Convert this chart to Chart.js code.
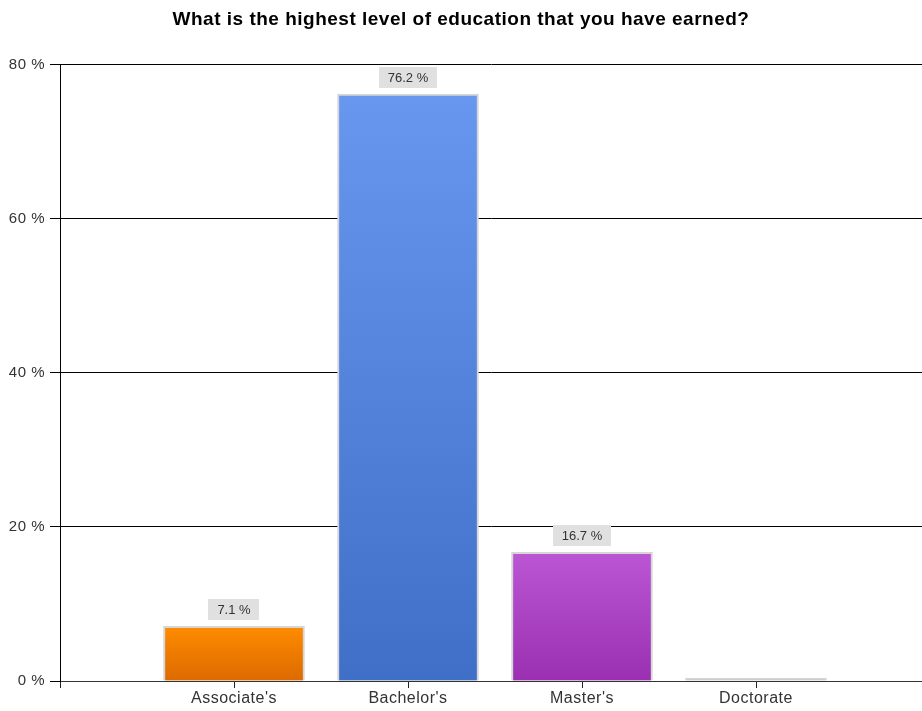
<!DOCTYPE html>
<html>
<head>
<meta charset="utf-8">
<title>Education level</title>
<script src="https://cdn.jsdelivr.net/npm/chart.js@4/dist/chart.umd.min.js"></script>
<style>
    html, body { margin: 0; padding: 0; background: #fff; overflow: hidden; }
    #wrap { width: 922px; height: 711px; position: relative; }
</style>
</head>
<body>
<div id="wrap"><canvas id="chart"></canvas></div>
<script>
// Survey answers
const categories = ["Associate's", "Bachelor's", "Master's", "Doctorate"];
const percentages = [7.1, 76.2, 16.7, 0];
const yTicks = [0, 20, 40, 60, 80];

// Top / bottom colours of each bar's gradient
const topColors = ['#ff8c00', '#6797ee', '#bb56d4', '#cccccc'];
const bottomColors = ['#dc6a00', '#3f6fc7', '#9a30b1', '#cccccc'];

// Bars sit at x = 1..4 on a linear axis so the plot runs on past the last bar
const points = categories.map((c, i) => ({ x: i + 1, y: percentages[i] }));

const FONT = '"Liberation Sans", Arial, sans-serif';

function barGradient(context) {
    const chart = context.chart;
    const i = context.dataIndex;
    if (!chart.chartArea || i === undefined) return topColors[i] || '#888';
    const y = chart.scales.y;
    const top = y.getPixelForValue(percentages[i]);
    const bottom = y.getPixelForValue(0);
    if (bottom - top < 1) return topColors[i];
    const g = chart.ctx.createLinearGradient(0, top, 0, bottom);
    g.addColorStop(0, topColors[i]);
    g.addColorStop(1, bottomColors[i]);
    return g;
}

// Slightly looser text for title and axis labels
const spacing = {
    id: 'spacing',
    beforeDraw(chart) { chart.ctx.letterSpacing = '0.5px'; },
    afterDraw(chart) { chart.ctx.letterSpacing = '0px'; }
};

// Grey value boxes above the bars
const valueBoxes = {
    id: 'valueBoxes',
    afterDatasetsDraw(chart) {
        const ctx = chart.ctx;
        const meta = chart.getDatasetMeta(0);
        ctx.save();
        ctx.letterSpacing = '0px';
        ctx.font = '13px ' + FONT;
        ctx.textAlign = 'center';
        ctx.textBaseline = 'middle';
        meta.data.forEach((bar, i) => {
            const v = percentages[i];
            if (!v) return;
            const text = v.toFixed(1) + ' %';
            const w = ctx.measureText(text).width + 18;
            const h = 21;
            const bottom = bar.y - 6;
            ctx.fillStyle = '#e0e0e0';
            ctx.fillRect(Math.round(bar.x - w / 2), Math.round(bottom - h), Math.round(w), h);
            ctx.fillStyle = '#333';
            ctx.fillText(text, bar.x, bottom - h / 2 + 1);
        });
        ctx.restore();
    }
};

const ctx = document.getElementById('chart');
const chart = new Chart(ctx.getContext('2d'), {
    type: 'bar',
    data: {
        datasets: [{
            data: points,
            backgroundColor: barGradient,
            borderColor: '#d6d6d6',
            borderWidth: { top: 2, left: 2, right: 2, bottom: 0 },
            borderSkipped: 'start',
            barThickness: 141,
            minBarLength: 3
        }]
    },
    options: {
        responsive: true,
        maintainAspectRatio: false,
        animation: false,
        layout: { padding: 0 },
        plugins: {
            legend: { display: false },
            tooltip: { enabled: false },
            title: {
                display: true,
                text: 'What is the highest level of education that you have earned?',
                color: '#000',
                font: { family: FONT, size: 19, weight: 'bold' },
                padding: { top: 8, bottom: 34 }
            }
        },
        scales: {
            x: {
                type: 'linear',
                offset: false,
                min: 0,
                max: 862 / 174,
                afterFit(scale) { scale.height = 30; },
                afterBuildTicks(scale) {
                    scale.ticks = [0, 1, 2, 3, 4].map(v => ({ value: v }));
                },
                ticks: {
                    autoSkip: false,
                    maxRotation: 0,
                    padding: 1,
                    color: '#333',
                    font: { family: FONT, size: 16 },
                    callback: v => categories[v - 1] || ''
                },
                grid: {
                    offset: false,
                    drawOnChartArea: false,
                    drawTicks: true,
                    tickLength: 7,
                    color: '#222',
                    lineWidth: 1
                },
                border: { display: true, color: '#333', width: 1 }
            },
            y: {
                min: 0,
                max: 80,
                afterFit(scale) { scale.width = 60; },
                afterBuildTicks(scale) {
                    scale.ticks = yTicks.map(v => ({ value: v }));
                },
                ticks: {
                    padding: 5,
                    color: '#333',
                    font: { family: FONT, size: 15 },
                    callback: v => v + ' %'
                },
                grid: {
                    color: '#000',
                    lineWidth: 1,
                    tickLength: 10
                },
                border: { display: true, color: '#000', width: 1 }
            }
        }
    },
    plugins: [spacing, valueBoxes]
});
</script>
</body>
</html>
